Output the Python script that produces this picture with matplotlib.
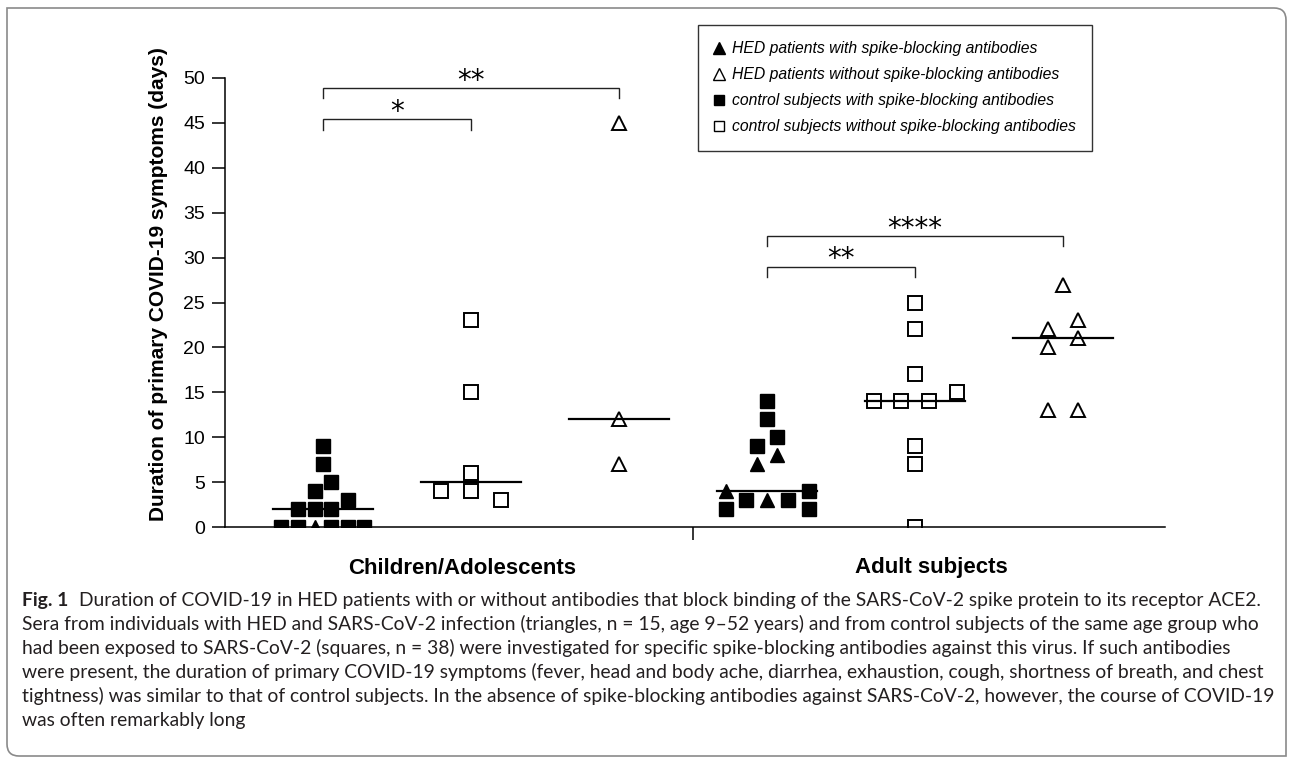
import numpy as np
import matplotlib
matplotlib.use("Agg")
import matplotlib.pyplot as plt
from matplotlib.lines import Line2D
from matplotlib.patches import PathPatch
from matplotlib.path import Path
from matplotlib.transforms import IdentityTransform

# duration of primary COVID-19 symptoms (days)
hed_with_child = [0]
ctrl_with_child = [9, 7, 5, 4, 3, 2, 2, 2, 0, 0, 0, 0, 0]
ctrl_without_child = [23, 15, 6, 4, 4, 3]
hed_without_child = [45, 12, 7]
hed_with_adult = [8, 7, 3, 4]
ctrl_with_adult = [14, 12, 10, 9, 4, 3, 3, 2, 2]
ctrl_without_adult = [25, 22, 17, 15, 14, 14, 14, 9, 7, 0]
hed_without_adult = [27, 23, 22, 21, 20, 13, 13]

age_groups = ["Children/Adolescents", "Adult subjects"]
y_ticks = [0, 5, 10, 15, 20, 25, 30, 35, 40, 45, 50]
comparisons = [(0, 1, "*"), (0, 2, "**"), (3, 4, "**"), (3, 5, "****")]
legend_labels = ["HED patients with spike-blocking antibodies",
                 "HED patients without spike-blocking antibodies",
                 "control subjects with spike-blocking antibodies",
                 "control subjects without spike-blocking antibodies"]
ylabel = "Duration of primary COVID-19 symptoms (days)"
caption_lines = [
    "Duration of COVID-19 in HED patients with or without antibodies that block binding of the SARS-CoV-2 spike protein to its receptor ACE2.",
    "Sera from individuals with HED and SARS-CoV-2 infection (triangles, n = 15, age 9\u201352 years) and from control subjects of the same age group who",
    "had been exposed to SARS-CoV-2 (squares, n = 38) were investigated for specific spike-blocking antibodies against this virus. If such antibodies",
    "were present, the duration of primary COVID-19 symptoms (fever, head and body ache, diarrhea, exhaustion, cough, shortness of breath, and chest",
    "tightness) was similar to that of control subjects. In the absence of spike-blocking antibodies against SARS-CoV-2, however, the course of COVID-19",
    "was often remarkably long",
]

# columns of the dot plot: (series key, values)
columns = [
    [("hed_with", hed_with_child), ("ctrl_with", ctrl_with_child)],
    [("ctrl_without", ctrl_without_child)],
    [("hed_without", hed_without_child)],
    [("hed_with", hed_with_adult), ("ctrl_with", ctrl_with_adult)],
    [("ctrl_without", ctrl_without_adult)],
    [("hed_without", hed_without_adult)],
]

styles = {
    "hed_with": dict(marker="^", ms=10, mfc="k", mec="k", mew=1.0),
    "hed_without": dict(marker="^", ms=10, mfc="none", mec="k", mew=1.4),
    "ctrl_with": dict(marker="s", ms=10.5, mfc="k", mec="k", mew=1.0),
    "ctrl_without": dict(marker="s", ms=10, mfc="none", mec="k", mew=1.4),
}

W, H, DPI = 1292, 759, 100
AX_L, AX_R, AX_T, AX_B = 225, 1165, 78, 527
XLIM = (-0.662, 5.689)
PX_X = (AX_R - AX_L) / (XLIM[1] - XLIM[0])
PX_Y = (AX_B - AX_T) / 50.0
MARK = 16.0      # symbol size in px
ROW_DAYS = 1.8   # values closer than this share a row
STEP = 30.0      # widest spacing between symbols in a row, px
SPAN = 83.0      # widest row, px


def swarm(values):
    v = np.asarray(values, float)
    order = np.argsort(v, kind="stable")
    rows = []
    for i in order:
        if rows and v[i] - v[rows[-1][0]] < ROW_DAYS:
            rows[-1].append(i)
        else:
            rows.append([i])
    widest = max(len(r) for r in rows)
    step = STEP if widest < 2 else min(STEP, SPAN / (widest - 1))
    lattice = sorted([k * step / 2 for k in range(-10, 11)], key=lambda o: (abs(o), o))
    off = np.zeros(len(v))
    done = []

    def fits(o, y):
        return all(abs(o - po) >= MARK - 0.6 or abs(y - py) * PX_Y >= MARK
                   for po, py in done)

    for row in rows:
        n = len(row)
        mid = np.median(v[row])
        row = sorted(row, key=lambda i: abs(v[i] - mid))
        pattern = sorted([(k - (n - 1) / 2) * step for k in range(n)],
                         key=lambda o: (abs(o), o))
        for i in row:
            o = next((p for p in pattern + lattice if fits(p, v[i])), 0.0)
            off[i] = o
            done.append((o, v[i]))
    return off / PX_X


plt.rcParams["font.family"] = ["Liberation Sans", "DejaVu Sans"]
fig = plt.figure(figsize=(W / DPI, H / DPI), dpi=DPI)
ax = fig.add_axes([AX_L / W, 1 - AX_B / H, (AX_R - AX_L) / W, (AX_B - AX_T) / H])

for x, col in enumerate(columns):
    allv = np.concatenate([np.asarray(vals, float) for _, vals in col])
    off = swarm(allv)
    start = 0
    for key, vals in col:
        n = len(vals)
        ax.plot(x + off[start:start + n], vals, ls="none", zorder=2, **styles[key])
        start += n
    med = np.median(allv)
    ax.plot([x - 0.338, x + 0.338], [med, med], color="k", lw=1.6, zorder=3)

# significance brackets
bracket_y = [45.4, 48.9, 29.0, 32.4]
for (a, b, stars), yb in zip(comparisons, bracket_y):
    ax.plot([a, a, b, b], [yb - 1.15, yb, yb, yb - 1.15], color="#222222",
            lw=1.0, clip_on=False, solid_joinstyle="miter")
    ax.text((a + b) / 2, yb - 0.1, stars, ha="center", va="baseline",
            fontsize=20, family="DejaVu Sans", clip_on=False)

ax.set_xlim(*XLIM)
ax.set_ylim(0, 50)
ax.set_yticks(y_ticks)
ax.set_xticks([2.5])
ax.set_xticklabels([])
ax.tick_params(axis="both", direction="out", length=9.4, width=1.1, labelsize=14, pad=5)
for side in ["top", "right"]:
    ax.spines[side].set_visible(False)
for side in ["left", "bottom"]:
    ax.spines[side].set_linewidth(1.1)

fig.text(158 / W, 1 - 284 / H, ylabel, rotation=90, ha="center", va="center",
         fontsize=15, fontweight="bold")
fig.text(462 / W, 1 - 568 / H, age_groups[0], ha="center", va="center",
         fontsize=16, fontweight="bold")
fig.text(931 / W, 1 - 568 / H, age_groups[1], ha="center", va="center",
         fontsize=16, fontweight="bold")

handles = [Line2D([], [], ls="none", marker="^", ms=8.5, mfc="k", mec="k", mew=1),
           Line2D([], [], ls="none", marker="^", ms=8.5, mfc="none", mec="k", mew=1),
           Line2D([], [], ls="none", marker="s", ms=7.5, mfc="k", mec="k", mew=1),
           Line2D([], [], ls="none", marker="s", ms=7.5, mfc="none", mec="k", mew=1)]
leg = fig.legend(handles, legend_labels, loc="upper left",
                 bbox_to_anchor=(698 / W, 1 - 25 / H), borderaxespad=0,
                 frameon=True, fancybox=False, edgecolor="k",
                 prop=dict(family="Liberation Sans", style="italic", size=11.3),
                 borderpad=1.05, labelspacing=0.7, handlelength=0.6,
                 handletextpad=0.5)
leg.get_frame().set_linewidth(1.0)

# caption: pick the installed face whose line lengths best follow the original
cap_col = "#231f20"
line_ends = [1270, 1262, 1222, 1266, 1265]
x0 = 22
r = fig.canvas.get_renderer()


def line_widths(face, size):
    out = []
    for k, line in enumerate(caption_lines[:5]):
        t = fig.text(0, 0, line, family=face, size=size)
        w = t.get_window_extent(r).width
        t.remove()
        if k == 0:
            t = fig.text(0, 0, "Fig. 1", family=face, weight="bold", size=size)
            w += t.get_window_extent(r).width + 0.55 * size * DPI / 72
            t.remove()
        out.append(w)
    return np.array(out)


target = np.array(line_ends, float) - x0
best = None
for face in ["Lato", "Roboto", "Open Sans", "Noto Sans", "Liberation Sans"]:
    w = line_widths(face, 12)
    s = (w @ target) / (w @ w)
    err = np.sum((s * w - target) ** 2) + 1e6 * max(0, (s * w).max() + x0 - 1278)
    if best is None or err < best[0]:
        best = (err, face, 12 * s)
_, cap_font, cap_size = best

bold = fig.text(x0 / W, 1 - 606 / H, "Fig. 1", family=cap_font, weight="bold",
                size=cap_size, color=cap_col, va="baseline")
bw = bold.get_window_extent(r).width
fig.text((x0 + bw + 0.55 * cap_size * DPI / 72) / W, 1 - 606 / H, caption_lines[0],
         family=cap_font, size=cap_size, color=cap_col, va="baseline")
for k, line in enumerate(caption_lines[1:], start=1):
    fig.text(x0 / W, 1 - (606 + 24 * k) / H, line, family=cap_font, size=cap_size,
             color=cap_col, va="baseline")

# rounded figure frame
fx0, fx1, fy0, fy1, rad = 7, 1286, H - 756, H - 8, 12
verts = [(fx0, fy1), (fx1 - rad, fy1), (fx1, fy1), (fx1, fy1 - rad), (fx1, fy0),
         (fx0 + rad, fy0), (fx0, fy0), (fx0, fy0 + rad), (fx0, fy1)]
codes = [Path.MOVETO, Path.LINETO, Path.CURVE3, Path.CURVE3, Path.LINETO,
         Path.LINETO, Path.CURVE3, Path.CURVE3, Path.CLOSEPOLY]
fig.add_artist(PathPatch(Path(verts, codes), transform=IdentityTransform(),
                         fill=False, edgecolor="#8a8a8a", lw=1.2))

fig.savefig("out.png", dpi=DPI)
